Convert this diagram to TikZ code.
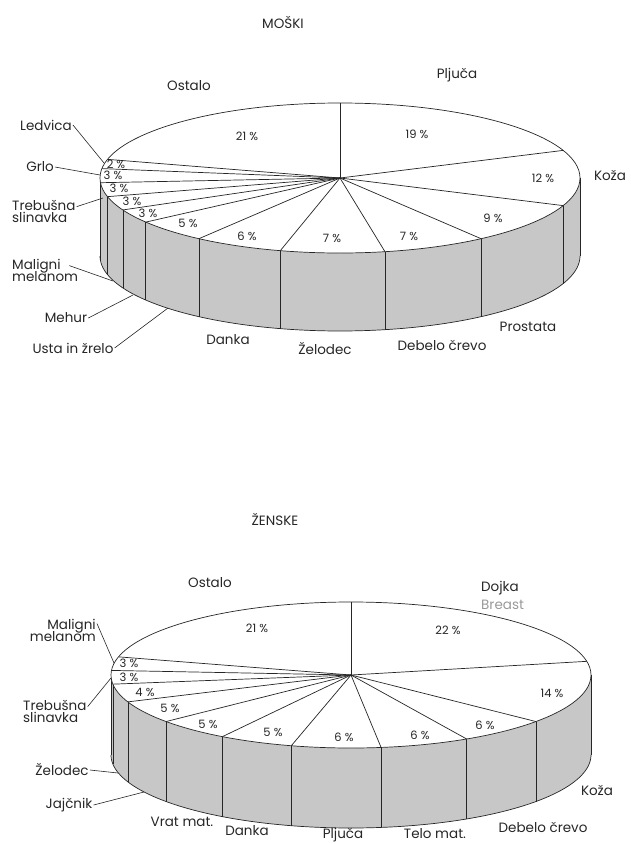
\documentclass[tikz,border=0pt]{standalone}
\usepackage{fontspec}
\setmainfont{Poppins}
\begin{document}
\begin{tikzpicture}[x=1pt,y=-1pt,
  pieline/.style={line width=0.7pt,black!85},
  sidefill/.style={fill=black!22},
  lbl/.style={font=\fontsize{13.5}{15}\selectfont,inner sep=1pt,text=black!85},
  pct/.style={font=\fontsize{11.5}{13}\selectfont,inner sep=0pt,text=black!85},
  leader/.style={line width=0.6pt,black!85}]
\useasboundingbox (0,0) rectangle (631,844);
% ================= MOSKI =================
\begin{scope}
\def\Pcx{340}\def\Pcy{178}\def\Prx{240}\def\Pry{75}\def\Pdep{78}
\fill[sidefill] plot[domain=90:270,samples=100] ({\Pcx+\Prx*sin(\x)},{\Pcy-\Pry*cos(\x)})
  -- plot[domain=270:90,samples=100] ({\Pcx+\Prx*sin(\x)},{\Pcy+\Pdep-\Pry*cos(\x)}) -- cycle;
\draw[pieline] plot[domain=90:270,samples=100] ({\Pcx+\Prx*sin(\x)},{\Pcy+\Pdep-\Pry*cos(\x)});
\foreach \a in {90,111.6,144,169.2,194.4,216,234,244.8,255.6,266.4,270}
  \draw[pieline] ({\Pcx+\Prx*sin(\a)},{\Pcy-\Pry*cos(\a)}) -- ++(0,\Pdep);
\draw[pieline,fill=white] (\Pcx,\Pcy) ellipse [x radius=\Prx, y radius=\Pry];
\coordinate (mc) at (\Pcx,\Pcy);
\foreach \a in {0,68.4,111.6,144,169.2,194.4,216,234,244.8,255.6,266.4,277.2,284.4}
  \draw[pieline] (mc) -- ({\Pcx+\Prx*sin(\a)},{\Pcy-\Pry*cos(\a)});
\coordinate (mLedP) at (104,163);
\coordinate (mGrlP) at (100,175);
\coordinate (mTrbP) at (103,198);
\coordinate (mMalP) at (113,281);
\coordinate (mMehP) at (133,295);
\coordinate (mUstP) at (168,308);
\end{scope}
\node[lbl] (mtitle) at (283,22) {MOŠKI};
\node[lbl] (mOst) at (189,86) {Ostalo};
\node[lbl] (mPlj) at (457,75) {Pljuča};
\node[lbl] (mKoz) at (610,175) {Koža};
\node[lbl] (mPro) at (528,327) {Prostata};
\node[lbl] (mDeb) at (442,345) {Debelo črevo};
\node[lbl] (mZel) at (325,349) {Želodec};
\node[lbl] (mDan) at (228,340) {Danka};
\node[lbl] (mUst) at (73,348) {Usta in žrelo};
\node[lbl] (mMeh) at (66,318) {Mehur};
\node[lbl,align=left,anchor=west] (mMal) at (11,270) {Maligni\\[-3pt]melanom};
\node[lbl,align=left,anchor=west] (mTrb) at (11,211) {Trebušna\\[-3pt]slinavka};
\node[lbl] (mGrl) at (40,167) {Grlo};
\node[lbl] (mLed) at (46,125) {Ledvica};
\draw[leader] (mLed.east) -- (mLedP);
\draw[leader] (mGrl.east) -- (mGrlP);
\draw[leader] ([yshift=-8pt]mTrb.north east) -- (mTrbP);
\draw[leader] ([xshift=-10pt,yshift=-8pt]mMal.north east) -- (mMalP);
\draw[leader] (mMeh.east) -- (mMehP);
\draw[leader] (mUst.east) -- (mUstP);
\node[pct] (mp1) at (417,134) {19 \%};
\node[pct] (mp2) at (543,178) {12 \%};
\node[pct] (mp3) at (493,218) {9 \%};
\node[pct] (mp4) at (409,236) {7 \%};
\node[pct] (mp5) at (332,238) {7 \%};
\node[pct] (mp6) at (247,236) {6 \%};
\node[pct] (mp7) at (188,223) {5 \%};
\node[pct] (mp8) at (148,213) {3 \%};
\node[pct] (mp9) at (132,201) {3 \%};
\node[pct] (mp10) at (119,188) {3 \%};
\node[pct] (mp11) at (113,175) {3 \%};
\node[pct] (mp12) at (116,164) {2 \%};
\node[pct] (mp13) at (247,136) {21 \%};
% ================= ZENSKE =================
\begin{scope}
\def\Pcx{351}\def\Pcy{675}\def\Prx{240}\def\Pry{73}\def\Pdep{80}
\fill[sidefill] plot[domain=90:270,samples=100] ({\Pcx+\Prx*sin(\x)},{\Pcy-\Pry*cos(\x)})
  -- plot[domain=270:90,samples=100] ({\Pcx+\Prx*sin(\x)},{\Pcy+\Pdep-\Pry*cos(\x)}) -- cycle;
\draw[pieline] plot[domain=90:270,samples=100] ({\Pcx+\Prx*sin(\x)},{\Pcy+\Pdep-\Pry*cos(\x)});
\foreach \a in {90,129.6,151.2,172.8,194.4,212.4,230.4,248.4,262.8,270}
  \draw[pieline] ({\Pcx+\Prx*sin(\a)},{\Pcy-\Pry*cos(\a)}) -- ++(0,\Pdep);
\draw[pieline,fill=white] (\Pcx,\Pcy) ellipse [x radius=\Prx, y radius=\Pry];
\coordinate (fc) at (\Pcx,\Pcy);
\foreach \a in {0,79.2,129.6,151.2,172.8,194.4,212.4,230.4,248.4,262.8,273.6,284.4}
  \draw[pieline] (fc) -- ({\Pcx+\Prx*sin(\a)},{\Pcy-\Pry*cos(\a)});
\coordinate (fMalP) at (114,663);
\coordinate (fTrbP) at (111,678);
\coordinate (fZelP) at (118,773);
\coordinate (fJajP) at (144,792);
\end{scope}
\node[lbl] (ftitle) at (275,519) {ŽENSKE};
\node[lbl] (fOst) at (210,583) {Ostalo};
\node[lbl,anchor=west] (fDoj) at (480,588) {Dojka};
\node[lbl,anchor=west,text=black!40] (fBre) at (480,605) {Breast};
\node[lbl] (fKoz) at (597,790) {Koža};
\node[lbl] (fDeb) at (543,827) {Debelo črevo};
\node[lbl] (fTel) at (435,834) {Telo mat.};
\node[lbl] (fPlj) at (343,835) {Pljuča};
\node[lbl] (fDan) at (247,831) {Danka};
\node[lbl] (fVrt) at (182,822) {Vrat mat.};
\node[lbl] (fJaj) at (69,805) {Jajčnik};
\node[lbl] (fZel) at (62,770) {Želodec};
\node[lbl,align=left,anchor=west] (fTrb) at (22,711) {Trebušna\\[-3pt]slinavka};
\node[lbl,align=right,anchor=east] (fMal) at (97,630) {Maligni\\[-3pt]melanom};
\draw[leader] ([yshift=-6pt]fMal.north east) -- (fMalP);
\draw[leader] ([yshift=-8pt]fTrb.north east) -- (fTrbP);
\draw[leader] (fZel.east) -- (fZelP);
\draw[leader] (fJaj.east) -- (fJajP);
\node[pct] (fp1) at (448,630) {22 \%};
\node[pct] (fp2) at (552,693) {14 \%};
\node[pct] (fp3) at (485,725) {6 \%};
\node[pct] (fp4) at (420,735) {6 \%};
\node[pct] (fp5) at (344,737) {6 \%};
\node[pct] (fp6) at (273,732) {5 \%};
\node[pct] (fp7) at (208,724) {5 \%};
\node[pct] (fp8) at (170,708) {5 \%};
\node[pct] (fp9) at (145,692) {4 \%};
\node[pct] (fp10) at (129,677) {3 \%};
\node[pct] (fp11) at (129,663) {3 \%};
\node[pct] (fp12) at (257,628) {21 \%};
\end{tikzpicture}
\end{document}
